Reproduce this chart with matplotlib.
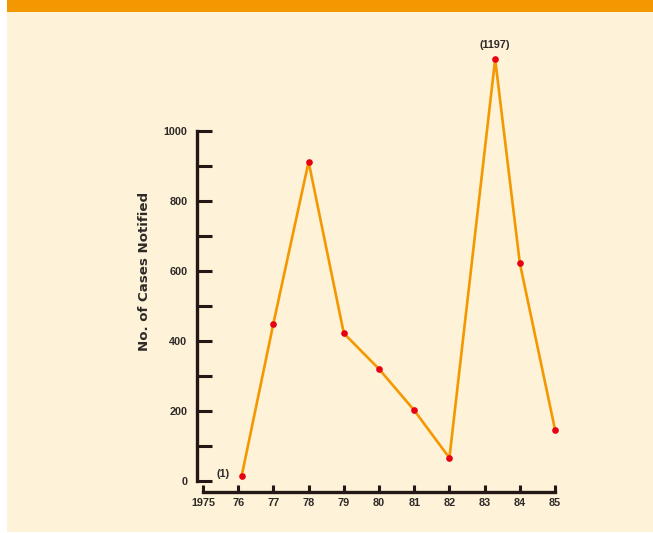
import matplotlib
matplotlib.use("Agg")
import matplotlib.pyplot as plt
from matplotlib.patches import Rectangle

# Data
years = [1976.1, 1977, 1978, 1979, 1980, 1981, 1982, 1983.3, 1984, 1985]
cases = [15, 450, 912, 422, 320, 202, 66, 1205, 623, 147]
x_ticks = [1975, 1976, 1977, 1978, 1979, 1980, 1981, 1982, 1983, 1984, 1985]
x_labels = ["1975", "76", "77", "78", "79", "80", "81", "82", "83", "84", "85"]
y_major = [0, 200, 400, 600, 800, 1000]
y_minor = [100, 300, 500, 700, 900]
annotations = [("(1)", 1976.1, 15), ("(1197)", 1983.3, 1205)]
ylabel = "No. of Cases Notified"

W, H = 653, 533
fig = plt.figure(figsize=(W / 100, H / 100), dpi=100)
fig.patch.set_facecolor("white")

cream = "#FEF2D8"
orange_band = "#F39800"
ink = "#231815"
text_col = "#2E2A28"
line_col = "#F39800"
dot_col = "#E60012"

# background panels
fig.patches.append(Rectangle((7 / W, 1 / H), 1 - 7 / W, (H - 1 - 12) / H,
                             transform=fig.transFigure, facecolor=cream,
                             edgecolor="none", zorder=-10))
fig.patches.append(Rectangle((7 / W, (H - 12) / H), 1 - 7 / W, 12 / H,
                             transform=fig.transFigure, facecolor=orange_band,
                             edgecolor="none", zorder=-10))

left = 203 / W
right = 555 / W
bottom = (H - 481) / H
ymax = 1250
height = (481 - 131) / H * ymax / 1000
ax = fig.add_axes([left, bottom, right - left, height])
ax.set_zorder(5)
ax.set_facecolor("none")

ax.plot(years, cases, color=line_col, lw=1.9, zorder=3, clip_on=False,
        solid_joinstyle="miter")
ax.plot(years, cases, "o", color=dot_col, ms=4.8, zorder=4, clip_on=False,
        markeredgewidth=0)

ax.set_xlim(1975, 1985)
ax.set_ylim(0, ymax)

for sp in ["top", "right"]:
    ax.spines[sp].set_visible(False)
ax.spines["left"].set_position(("outward", 4.3))
ax.spines["bottom"].set_position(("outward", 8))
ax.spines["left"].set_bounds(0, 1000)
ax.spines["bottom"].set_bounds(1975, 1985)
for sp in ["left", "bottom"]:
    ax.spines[sp].set_linewidth(2.4)
    ax.spines[sp].set_color(ink)
    ax.spines[sp].set_capstyle("projecting")

ax.set_xticks(x_ticks)
ax.set_xticklabels(x_labels)
ax.set_yticks(y_major)
ax.set_yticks(y_minor, minor=True)
ax.tick_params(axis="y", which="both", direction="in", length=11, width=2.2,
               color=ink, pad=7)
ax.tick_params(axis="x", which="both", direction="in", length=5, width=2.2,
               color=ink, pad=4)
for lab in ax.get_xticklabels() + ax.get_yticklabels():
    lab.set_fontfamily("Liberation Sans")
    lab.set_fontweight("bold")
    lab.set_fontsize(7.8)
    lab.set_color(text_col)

ax.set_ylabel(ylabel, fontfamily="DejaVu Sans", fontweight="bold",
              fontsize=9.6, color=text_col)
ax.yaxis.label.set_va("center")
ax.yaxis.set_label_coords((144 - 203) / 352, (481 - 271) / 437.5)

txt, xx, yy = annotations[0]
ax.annotate(txt, (xx, yy), xytext=(-9, 1), textcoords="offset points",
            ha="right", va="center", fontfamily="Liberation Sans",
            fontweight="bold", fontsize=7.8, color=text_col)
txt, xx, yy = annotations[1]
ax.annotate(txt, (xx, yy), xytext=(0, 7), textcoords="offset points",
            ha="center", va="bottom", fontfamily="Liberation Sans",
            fontweight="bold", fontsize=7.8, color=text_col,
            annotation_clip=False)

fig.savefig("out.png", dpi=100, facecolor=fig.get_facecolor())
